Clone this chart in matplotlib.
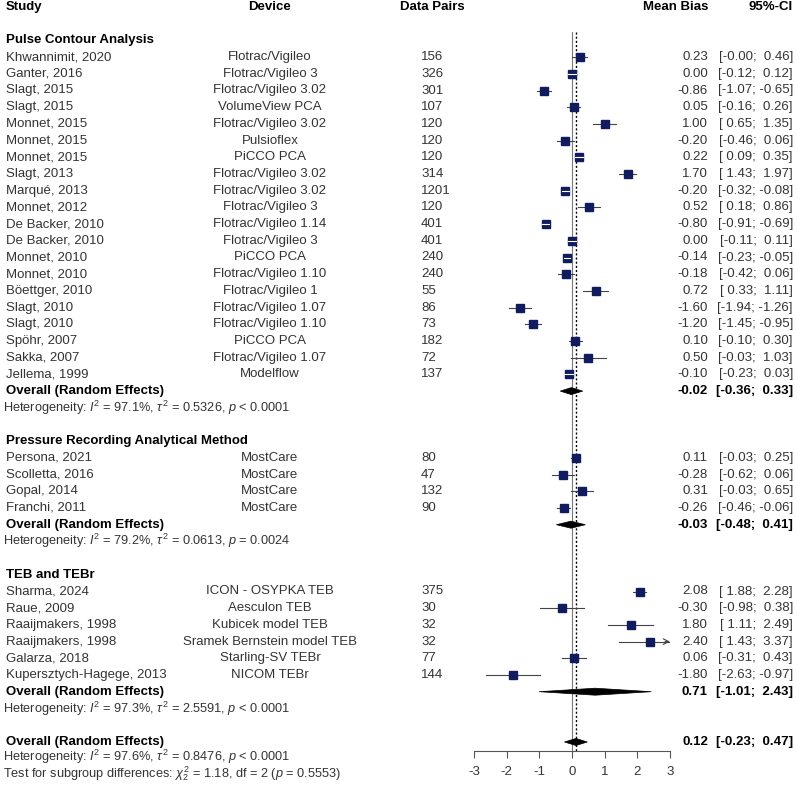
import matplotlib
matplotlib.use("Agg")
import matplotlib.pyplot as plt
from matplotlib.patches import Polygon

plt.rcParams['font.family'] = ['Liberation Sans', 'DejaVu Sans']
plt.rcParams['mathtext.fontset'] = 'custom'
plt.rcParams['mathtext.rm'] = 'Liberation Sans'
plt.rcParams['mathtext.it'] = 'Liberation Sans:italic'
plt.rcParams['mathtext.bf'] = 'Liberation Sans:bold'
plt.rcParams['axes.unicode_minus'] = False

# --- data ---
pca_study = ["Khwannimit, 2020", "Ganter, 2016", "Slagt, 2015", "Slagt, 2015", "Monnet, 2015",
             "Monnet, 2015", "Monnet, 2015", "Slagt, 2013", "Marqué, 2013", "Monnet, 2012",
             "De Backer, 2010", "De Backer, 2010", "Monnet, 2010", "Monnet, 2010", "Böettger, 2010",
             "Slagt, 2010", "Slagt, 2010", "Spöhr, 2007", "Sakka, 2007", "Jellema, 1999"]
pca_device = ["Flotrac/Vigileo", "Flotrac/Vigileo 3", "Flotrac/Vigileo 3.02", "VolumeView PCA",
              "Flotrac/Vigileo 3.02", "Pulsioflex", "PiCCO PCA", "Flotrac/Vigileo 3.02",
              "Flotrac/Vigileo 3.02", "Flotrac/Vigileo 3", "Flotrac/Vigileo 1.14", "Flotrac/Vigileo 3",
              "PiCCO PCA", "Flotrac/Vigileo 1.10", "Flotrac/Vigileo 1", "Flotrac/Vigileo 1.07",
              "Flotrac/Vigileo 1.10", "PiCCO PCA", "Flotrac/Vigileo 1.07", "Modelflow"]
pca_n = [156, 326, 301, 107, 120, 120, 120, 314, 1201, 120, 401, 401, 240, 240, 55, 86, 73, 182, 72, 137]
pca_bias = [0.23, 0.00, -0.86, 0.05, 1.00, -0.20, 0.22, 1.70, -0.20, 0.52,
            -0.80, 0.00, -0.14, -0.18, 0.72, -1.60, -1.20, 0.10, 0.50, -0.10]
pca_lo = [-0.00, -0.12, -1.07, -0.16, 0.65, -0.46, 0.09, 1.43, -0.32, 0.18,
          -0.91, -0.11, -0.23, -0.42, 0.33, -1.94, -1.45, -0.10, -0.03, -0.23]
pca_hi = [0.46, 0.12, -0.65, 0.26, 1.35, 0.06, 0.35, 1.97, -0.08, 0.86,
          -0.69, 0.11, -0.05, 0.06, 1.11, -1.26, -0.95, 0.30, 1.03, 0.03]
pca_pooled = (-0.02, -0.36, 0.33)

pram_study = ["Persona, 2021", "Scolletta, 2016", "Gopal, 2014", "Franchi, 2011"]
pram_device = ["MostCare", "MostCare", "MostCare", "MostCare"]
pram_n = [80, 47, 132, 90]
pram_bias = [0.11, -0.28, 0.31, -0.26]
pram_lo = [-0.03, -0.62, -0.03, -0.46]
pram_hi = [0.25, 0.06, 0.65, -0.06]
pram_pooled = (-0.03, -0.48, 0.41)

teb_study = ["Sharma, 2024", "Raue, 2009", "Raaijmakers, 1998", "Raaijmakers, 1998",
             "Galarza, 2018", "Kupersztych-Hagege, 2013"]
teb_device = ["ICON - OSYPKA TEB", "Aesculon TEB", "Kubicek model TEB",
              "Sramek Bernstein model TEB", "Starling-SV TEBr", "NICOM TEBr"]
teb_n = [375, 30, 32, 32, 77, 144]
teb_bias = [2.08, -0.30, 1.80, 2.40, 0.06, -1.80]
teb_lo = [1.88, -0.98, 1.11, 1.43, -0.31, -2.63]
teb_hi = [2.28, 0.38, 2.49, 3.37, 0.43, -0.97]
teb_pooled = (0.71, -1.01, 2.43)

total_pooled = (0.12, -0.23, 0.47)

groups = [
    ("Pulse Contour Analysis", pca_study, pca_device, pca_n, pca_bias, pca_lo, pca_hi, pca_pooled,
     r"Heterogeneity: $\mathit{I}^2$ = 97.1%, $\tau^2$ = 0.5326, $\mathit{p}$ < 0.0001"),
    ("Pressure Recording Analytical Method", pram_study, pram_device, pram_n, pram_bias, pram_lo,
     pram_hi, pram_pooled,
     r"Heterogeneity: $\mathit{I}^2$ = 79.2%, $\tau^2$ = 0.0613, $\mathit{p}$ = 0.0024"),
    ("TEB and TEBr", teb_study, teb_device, teb_n, teb_bias, teb_lo, teb_hi, teb_pooled,
     r"Heterogeneity: $\mathit{I}^2$ = 97.3%, $\tau^2$ = 2.5591, $\mathit{p}$ < 0.0001"),
]

xmin, xmax = -3, 3
W, H = 797, 786
axis_y = 751
row0, dy = 7.0, 16.7

grey = '#333333'
box_col = '#111c5e'
fs = 9.5
fs_small = 9.2


def ci_text(lo, hi):
    return f"[{lo:5.2f}; {hi:5.2f}]"


fig = plt.figure(figsize=(W / 100, H / 100), dpi=100)
tx = fig.add_axes([0, 0, 1, 1])
tx.set_xlim(0, W)
tx.set_ylim(H, 0)
tx.axis('off')

ax = fig.add_axes([474 / W, (H - axis_y) / H, 196 / W, axis_y / H])
ax.set_xlim(xmin, xmax)
ax.set_ylim(axis_y, 0)
ax.patch.set_alpha(0)
for s in ['top', 'left', 'right']:
    ax.spines[s].set_visible(False)
ax.spines['bottom'].set_color('#555555')
ax.spines['bottom'].set_linewidth(0.8)
ax.set_yticks([])
ax.set_xticks(range(-3, 4))
ax.tick_params(axis='x', length=5, width=0.8, color='#555555', labelsize=fs, labelcolor=grey, pad=6)

# reference lines
ax.plot([0, 0], [32, axis_y], color='#777777', lw=0.8, zorder=1)
ax.plot([total_pooled[0]] * 2, [32, axis_y], color='black', lw=1.0, ls=(0, (1.5, 1.5)), zorder=1)

# header
hy = row0
tx.text(6, hy, "Study", fontsize=fs, fontweight='bold', va='center')
tx.text(270, hy, "Device", fontsize=fs, fontweight='bold', va='center', ha='center')
tx.text(432, hy, "Data Pairs", fontsize=fs, fontweight='bold', va='center', ha='center')
tx.text(708, hy, "Mean Bias", fontsize=fs, fontweight='bold', va='center', ha='right')
tx.text(793, hy, "95%-CI", fontsize=fs, fontweight='bold', va='center', ha='right')

half_box = 4.25 * (xmax - xmin) / 196  # half box width in data units


def diamond(est, lo, hi, y, h=3.5):
    ax.add_patch(Polygon([(lo, y), (est, y - h), (hi, y), (est, y + h)], closed=True,
                         facecolor='black', edgecolor='black', lw=0.5, zorder=4, clip_on=False))


i = 2
for name, study, device, n, bias, lo, hi, pooled, het in groups:
    y = row0 + i * dy
    tx.text(6, y, name, fontsize=fs, fontweight='bold', va='center')
    i += 1
    for k in range(len(study)):
        y = row0 + i * dy
        tx.text(6, y, study[k], fontsize=fs, color=grey, va='center')
        tx.text(270, y, device[k], fontsize=fs, color=grey, va='center', ha='center')
        tx.text(421, y, str(n[k]), fontsize=fs, color=grey, va='center')
        tx.text(708, y, f"{bias[k]:.2f}", fontsize=fs, color=grey, va='center', ha='right')
        tx.text(793, y, ci_text(lo[k], hi[k]), fontsize=fs, color=grey, va='center', ha='right')
        right = min(hi[k], xmax)
        ax.plot([lo[k], right], [y, y], color='#444444', lw=0.8, zorder=2)
        if hi[k] > xmax:
            ax.annotate('', xy=(xmax, y), xytext=(right - 0.15, y),
                        arrowprops=dict(arrowstyle='->', color='#444444', lw=0.8,
                                        shrinkA=0, shrinkB=0), zorder=2)
        ax.plot(bias[k], y, marker='s', ms=6.1, color=box_col, mec=box_col, zorder=3)
        if hi[k] - bias[k] < half_box:
            ax.plot([lo[k], hi[k]], [y, y], color='white', lw=0.8, zorder=3.5)
        i += 1
    y = row0 + i * dy
    tx.text(6, y, "Overall (Random Effects)", fontsize=fs, fontweight='bold', va='center')
    tx.text(708, y, f"{pooled[0]:.2f}", fontsize=fs, fontweight='bold', va='center', ha='right')
    tx.text(793, y, ci_text(pooled[1], pooled[2]), fontsize=fs, fontweight='bold',
            va='center', ha='right')
    diamond(pooled[0], pooled[1], pooled[2], y)
    i += 1
    y = row0 + i * dy
    tx.text(3, y, het, fontsize=fs_small, color=grey, va='center')
    i += 2

# total
y = 742
tx.text(6, y, "Overall (Random Effects)", fontsize=fs, fontweight='bold', va='center')
tx.text(708, y, f"{total_pooled[0]:.2f}", fontsize=fs, fontweight='bold', va='center', ha='right')
tx.text(793, y, ci_text(total_pooled[1], total_pooled[2]), fontsize=fs, fontweight='bold',
        va='center', ha='right')
diamond(*total_pooled, y)
tx.text(3, 756.5, r"Heterogeneity: $\mathit{I}^2$ = 97.6%, $\tau^2$ = 0.8476, $\mathit{p}$ < 0.0001",
        fontsize=fs_small, color=grey, va='center')
tx.text(3, 774, r"Test for subgroup differences: $\chi^2_2$ = 1.18, df = 2 ($\mathit{p}$ = 0.5553)",
        fontsize=fs_small, color=grey, va='center')

fig.savefig("out.png", dpi=100, facecolor='white')
